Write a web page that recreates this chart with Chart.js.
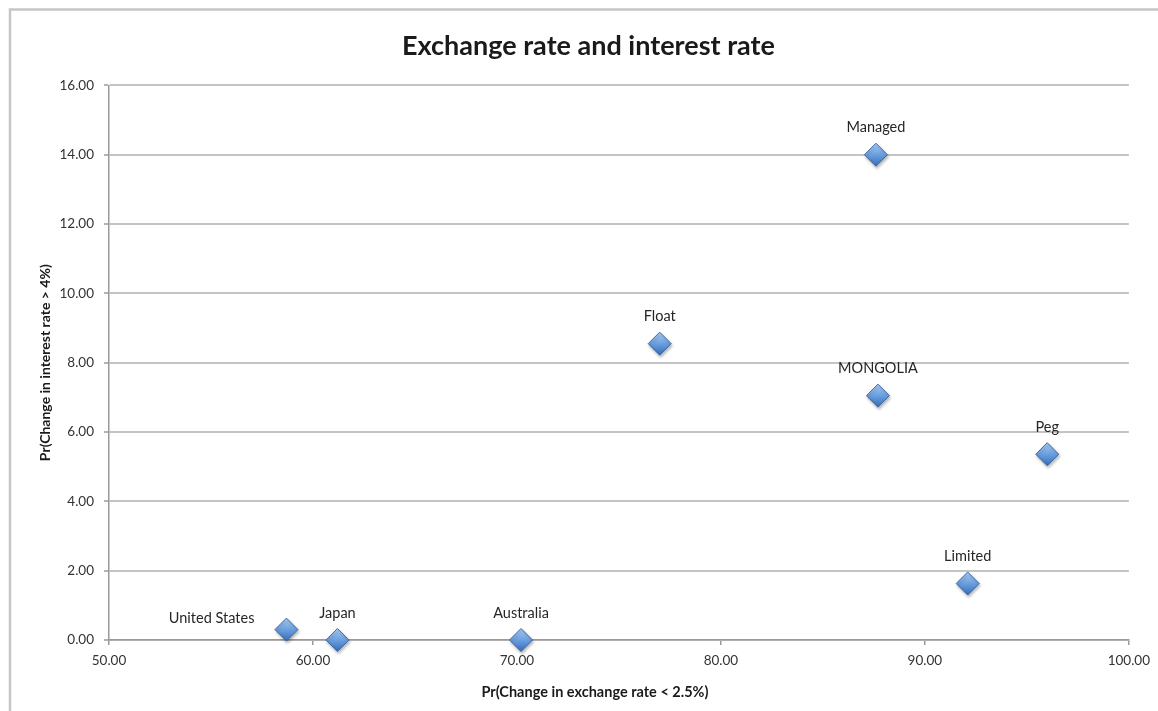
<!DOCTYPE html>
<html>
<head>
<meta charset="utf-8">
<script src="https://cdn.jsdelivr.net/npm/chart.js@4.4.1/dist/chart.umd.min.js"></script>
<style>
  html, body { margin: 0; padding: 0; background: #ffffff; }
  #wrap { position: relative; width: 1158px; height: 711px; }
  canvas { display: block; }
</style>
</head>
<body>
<div id="wrap"><canvas id="c" width="1158" height="711"></canvas></div>
<script>
// ---- data ----
const pointLabels = ["United States", "Japan", "Australia", "Float", "Managed", "MONGOLIA", "Peg", "Limited"];
const exchangeStability = [58.7, 61.2, 70.2, 77.0, 87.6, 87.7, 96.0, 92.1];
const interestVolatility = [0.30, 0.00, 0.00, 8.55, 14.00, 7.05, 5.36, 1.63];
const labelPlacement = ["left", "above", "above", "above", "above", "above", "above", "above"];
const xTicks = [50, 60, 70, 80, 90, 100];
const yTicks = [0, 2, 4, 6, 8, 10, 12, 14, 16];

const chartTitle = "Exchange rate and interest rate";
const xTitle = "Pr(Change in exchange rate < 2.5%)";
const yTitle = "Pr(Change in interest rate > 4%)";

const FONT = "Lato, 'Open Sans', 'Liberation Sans', sans-serif";

const points = exchangeStability.map((x, i) => ({ x: x, y: interestVolatility[i] }));

const frame = {
  id: 'frame',
  beforeDraw(chart) {
    const c = chart.ctx;
    c.save();
    c.fillStyle = '#ffffff';
    c.fillRect(0, 0, chart.width, chart.height);
    c.strokeStyle = '#c6c6c6';
    c.lineWidth = 2.5;
    c.beginPath();
    c.moveTo(10, chart.height);
    c.lineTo(10, 9.5);
    c.lineTo(chart.width, 9.5);
    c.stroke();
    c.restore();
  }
};

const shadow = {
  id: 'shadow',
  beforeDatasetDraw(chart) {
    const c = chart.ctx;
    c.save();
    c.shadowColor = 'rgba(0,0,0,0.28)';
    c.shadowBlur = 3;
    c.shadowOffsetX = 1;
    c.shadowOffsetY = 2;
  },
  afterDatasetDraw(chart) {
    chart.ctx.restore();
  }
};

const pointText = {
  id: 'pointText',
  afterDatasetsDraw(chart) {
    const c = chart.ctx;
    const meta = chart.getDatasetMeta(0);
    c.save();
    c.font = "14.5px " + FONT;
    c.fillStyle = '#262626';
    c.textBaseline = 'middle';
    meta.data.forEach((el, i) => {
      if (labelPlacement[i] === 'left') {
        c.textAlign = 'right';
        c.fillText(pointLabels[i], el.x - 32, el.y - 11);
      } else {
        c.textAlign = 'center';
        c.fillText(pointLabels[i], el.x, el.y - 27);
      }
    });
    // x axis title
    const a = chart.chartArea;
    c.font = "bold 14.5px " + FONT;
    c.fillStyle = '#1a1a1a';
    c.textAlign = 'center';
    c.fillText(xTitle, (a.left + a.right) / 2 - 24, 692);
    c.restore();
  }
};

function diamondFill(ctx) {
  const chart = ctx.chart;
  if (!chart.chartArea || ctx.parsed === undefined) return '#5b8fd0';
  const y = chart.scales.y.getPixelForValue(ctx.parsed.y);
  const g = chart.ctx.createLinearGradient(0, y - 11, 0, y + 11);
  g.addColorStop(0, '#a9cdf5');
  g.addColorStop(0.5, '#6a9fe0');
  g.addColorStop(1, '#3a6fb8');
  return g;
}

new Chart(document.getElementById('c'), {
  type: 'scatter',
  data: {
    datasets: [{
      data: points,
      clip: false,
      pointStyle: 'rectRot',
      pointRadius: 11.5,
      pointHoverRadius: 11.5,
      backgroundColor: diamondFill,
      borderColor: '#3d6aa6',
      borderWidth: 1
    }]
  },
  plugins: [frame, shadow, pointText],
  options: {
    responsive: false,
    animation: false,
    events: [],
    layout: { padding: { left: 34, right: 15, top: 0, bottom: 0 } },
    plugins: {
      legend: { display: false },
      tooltip: { enabled: false },
      title: {
        display: true,
        text: chartTitle,
        color: '#1a1a1a',
        font: { family: FONT, size: 27, weight: 'bold' },
        padding: { top: 30, bottom: 23 }
      }
    },
    scales: {
      x: {
        type: 'linear',
        min: 50, max: 100,
        afterBuildTicks(scale) { scale.ticks = xTicks.map(v => ({ value: v })); },
        afterFit(scale) { scale.height = 71; },
        ticks: {
          color: '#333333',
          font: { family: FONT, size: 13.5 },
          padding: 8,
          maxRotation: 0,
          callback: v => Number(v).toFixed(2)
        },
        grid: { drawOnChartArea: false, drawTicks: true, tickLength: 5, color: '#9a9a9a', lineWidth: 1.5 },
        border: { display: true, color: '#9a9a9a', width: 1.5 }
      },
      y: {
        type: 'linear',
        min: 0, max: 16,
        afterBuildTicks(scale) { scale.ticks = yTicks.map(v => ({ value: v })); },
        afterFit(scale) { scale.width = 75; },
        ticks: {
          color: '#333333',
          font: { family: FONT, size: 13.5 },
          padding: 10,
          callback: v => Number(v).toFixed(2)
        },
        grid: { color: '#c4c4c4', lineWidth: 2, tickLength: 5, tickColor: '#9a9a9a', tickWidth: 1.5 },
        border: { display: true, color: '#9a9a9a', width: 1.5 },
        title: {
          display: true,
          text: yTitle,
          color: '#1a1a1a',
          font: { family: FONT, size: 14, weight: 'bold' },
          padding: { top: 3, bottom: 0 }
        }
      }
    }
  }
});
</script>
</body>
</html>
